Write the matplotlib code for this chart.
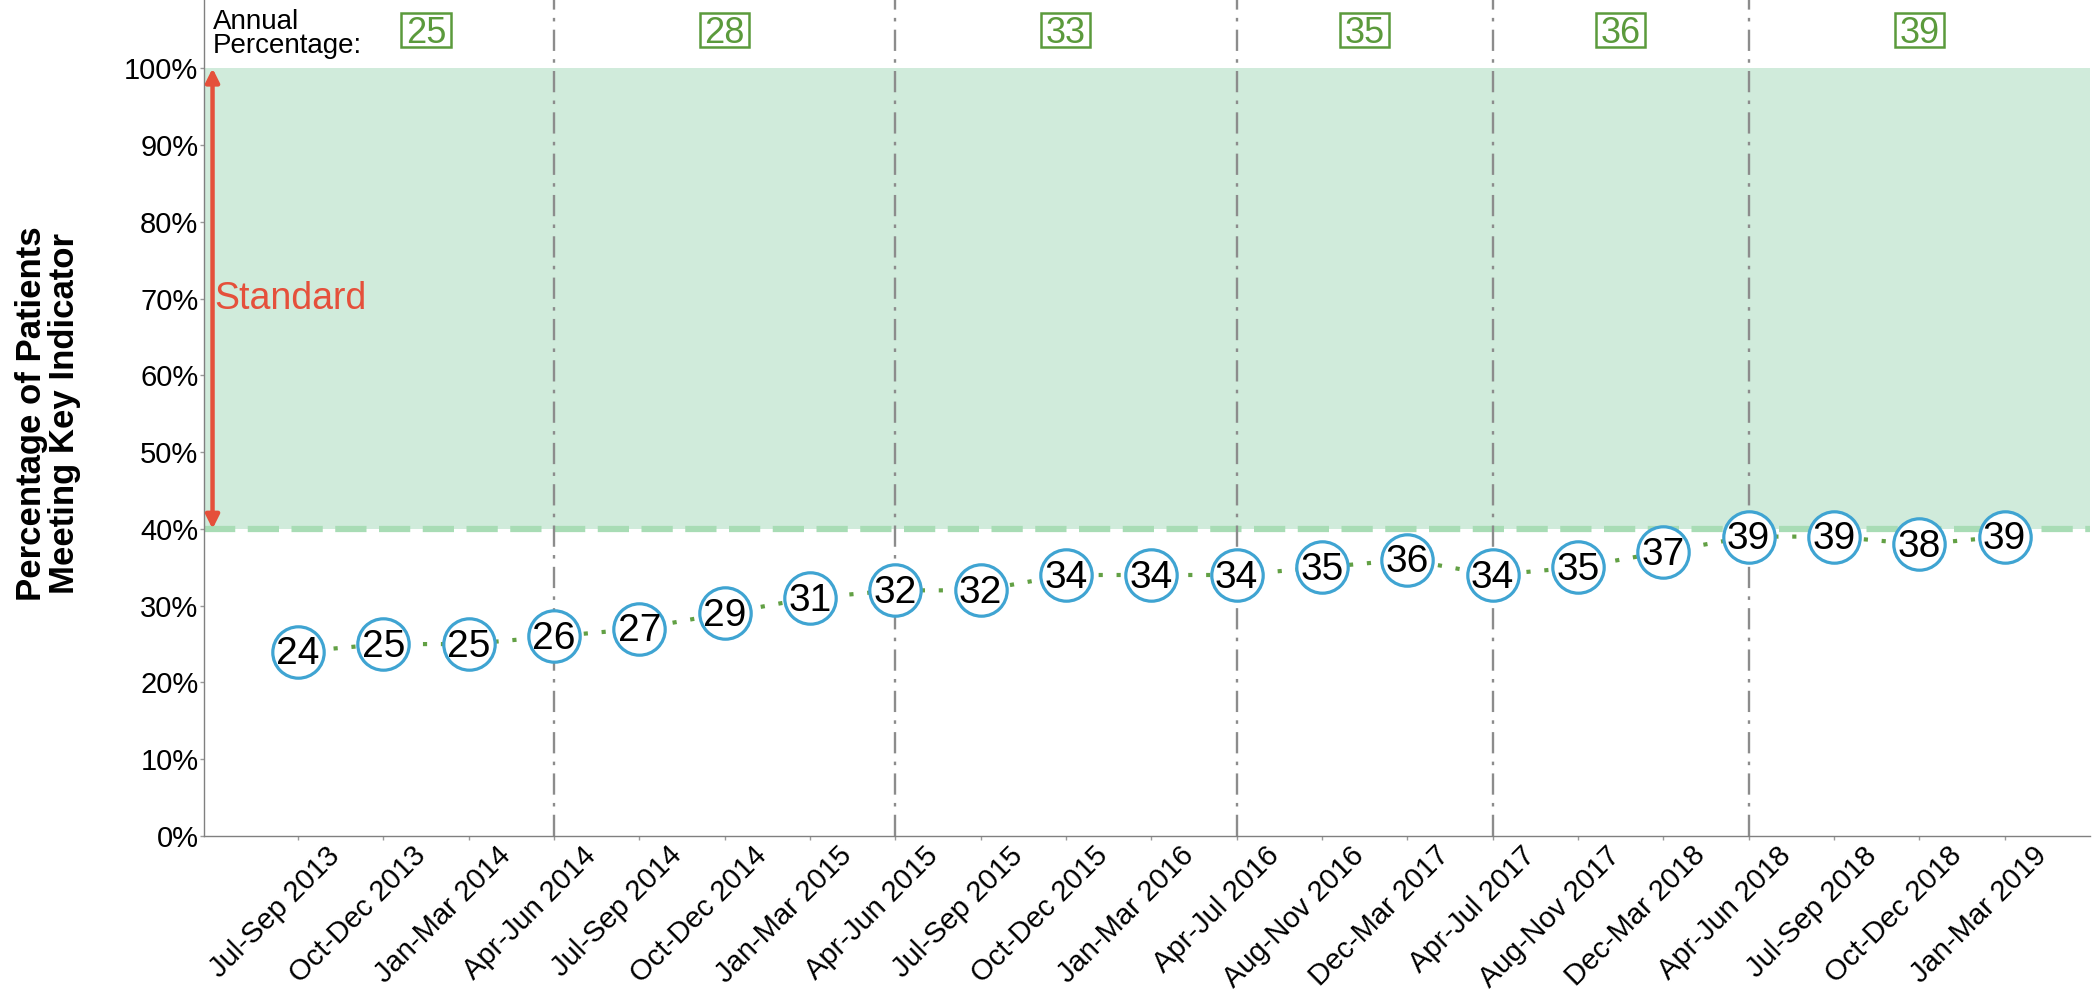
import matplotlib
matplotlib.use("Agg")
import matplotlib.pyplot as plt
from matplotlib.patches import Rectangle
from matplotlib.transforms import ScaledTranslation, IdentityTransform

plt.rcParams['font.family'] = ['Liberation Sans', 'DejaVu Sans']

# ---- data ----
periods = ["Jul-Sep 2013", "Oct-Dec 2013", "Jan-Mar 2014", "Apr-Jun 2014",
           "Jul-Sep 2014", "Oct-Dec 2014", "Jan-Mar 2015", "Apr-Jun 2015",
           "Jul-Sep 2015", "Oct-Dec 2015", "Jan-Mar 2016", "Apr-Jul 2016",
           "Aug-Nov 2016", "Dec-Mar 2017", "Apr-Jul 2017", "Aug-Nov 2017",
           "Dec-Mar 2018", "Apr-Jun 2018", "Jul-Sep 2018", "Oct-Dec 2018",
           "Jan-Mar 2019"]
values = [24, 25, 25, 26, 27, 29, 31, 32, 32, 34, 34, 34, 35, 36, 34, 35,
          37, 39, 39, 38, 39]
year_breaks = ["Apr-Jun 2014", "Apr-Jun 2015", "Apr-Jul 2016",
               "Apr-Jul 2017", "Apr-Jun 2018"]
annual_values = [25, 28, 33, 35, 36, 39]
standard_low = 40
standard_high = 100
y_ticks = [0, 10, 20, 30, 40, 50, 60, 70, 80, 90, 100]

# ---- styles ----
RED = '#E5503B'
GREEN_TXT = '#5B9A3C'
GREEN_LINE = '#62A044'
BAND = '#D0EBDB'
BAND_EDGE = '#A8DCB5'
BLUE = '#3FA4D2'
GRAY = '#8C8C8C'

fig = plt.figure(figsize=(20.93, 9.94), dpi=100)
ax = fig.add_axes([204/2093, 158/994, (2090-204)/2093, 836/994])

x = list(range(len(periods)))
ax.set_xlim(-1.1, len(periods))
ax.set_ylim(0, 108.9)

# standard band
ax.axhspan(standard_low, standard_high, color=BAND, lw=0, zorder=0)
ax.axhline(standard_low, color=BAND_EDGE, lw=4.5, ls=(0, (5, 2)), zorder=1)

# year separators
break_idx = [periods.index(p) for p in year_breaks]
for b in break_idx:
    ax.axvline(b, color=GRAY, lw=1.7, ls=(0, (9, 3.5, 1.5, 3.5)), zorder=1)

# data line + markers
ax.plot(x, values, color=GREEN_LINE, lw=3.0, ls=(0, (1, 3.3)), zorder=2)
ax.plot(x, values, 'o', ms=37, mfc='white', mec=BLUE, mew=2.3, zorder=3,
        ls='none')
for xi, v in zip(x, values):
    ax.text(xi, v - 0.35, str(v), ha='center', va='center', fontsize=28,
            color='black', zorder=4)

# standard arrow
ax.annotate('', xy=(-1, standard_high), xytext=(-1, standard_low),
            arrowprops=dict(arrowstyle='<|-|>', color=RED, lw=3.2,
                            mutation_scale=20, shrinkA=0, shrinkB=0),
            zorder=5)
ax.text(-0.98, 70, 'Standard', color=RED, fontsize=27, ha='left',
        va='center', zorder=5)

# annual percentages
ax.text(-1, 104.5, 'Annual\nPercentage:', ha='left', va='center',
        fontsize=20, linespacing=0.9)
bounds = [-1] + break_idx + [len(periods)]
annual_x = [(bounds[i] + bounds[i+1]) / 2 for i in range(len(bounds) - 1)]
annual_x[0] += 0.5
ANN_FS = 26
ANN_BASE = 103.3
annual_texts = []
for a_x, v in zip(annual_x, annual_values):
    t = ax.text(a_x, ANN_BASE, str(v), color=GREEN_TXT, fontsize=ANN_FS,
                ha='center', va='baseline', zorder=7)
    annual_texts.append((t, a_x))

# axes styling
ax.set_xticks(x)
ax.set_xticklabels(periods, rotation=45, ha='right', va='center',
                   rotation_mode='anchor', fontsize=21)
ax.set_yticks(y_ticks)
ax.set_yticklabels([f'{v}%' for v in y_ticks], fontsize=21)
for s in ['top', 'right']:
    ax.spines[s].set_visible(False)
for s in ['left', 'bottom']:
    ax.spines[s].set_color('#808080')
    ax.spines[s].set_linewidth(1.0)
ax.tick_params(axis='both', direction='out', length=3, width=1,
               color='#9A9A9A')
ax.tick_params(axis='x', pad=8.0)
ax.tick_params(axis='y', pad=1.0)
offset = ScaledTranslation(38/100, 0, fig.dpi_scale_trans)
for lab in ax.get_xticklabels():
    lab.set_transform(lab.get_transform() + offset)

fig.text(48/2093, (994-414)/994,
         'Percentage of Patients\nMeeting Key Indicator',
         rotation=90, ha='center', va='center', fontsize=25,
         fontweight='bold', linespacing=1.0, multialignment='center')

# tight boxes around annual values
fig.canvas.draw()
renderer = fig.canvas.get_renderer()
cap = 0.716 * ANN_FS * 100 / 72
for t, a_x in annual_texts:
    bb = t.get_window_extent(renderer)
    base = ax.transData.transform((a_x, ANN_BASE))[1]
    rect = Rectangle((bb.x0 - 4.5, base - 4.5), bb.width + 9, cap + 9,
                     transform=IdentityTransform(), fc='white',
                     ec=GREEN_TXT, lw=1.8, zorder=6)
    ax.add_patch(rect)

fig.savefig('out.png', dpi=100)
